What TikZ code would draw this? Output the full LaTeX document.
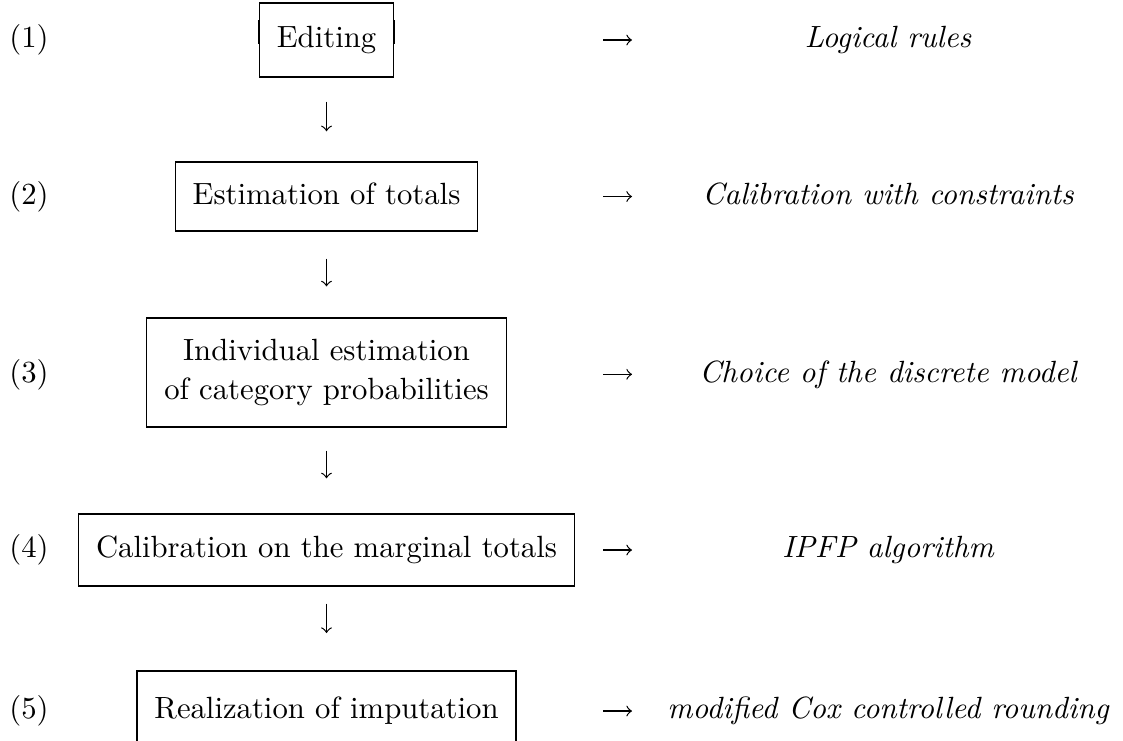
\documentclass[tikz,border=0pt]{standalone}
\begin{document}
\begin{tikzpicture}[x=0.3257pt,y=-0.3257pt,
  stepbox/.style={draw, line width=0.4pt, inner xsep=5.7pt, inner ysep=0pt,
    text height=6.94pt, text depth=1.94pt},
  twobox/.style={draw, line width=0.4pt, inner xsep=5.7pt, inner ysep=0pt,
    align=center, font=\fontsize{10}{12.7}\selectfont},
  lab/.style={anchor=base, inner sep=0pt},
  note/.style={anchor=base, inner sep=0pt, font=\itshape},
  arr/.style={line width=0.4pt, ->}]
\useasboundingbox (0,0) rectangle (1123,740);
\clip (0,0) rectangle (1123,740);
% boxes
\node[stepbox, minimum height=24.1pt] (e1) at (326.5,40) {Editing};
\node[stepbox, minimum height=22.5pt] (e2) at (326.5,196.5) {Estimation of totals};
\node[twobox, minimum height=35.5pt] (e3) at (326.5,372.5) {Individual estimation\\of category probabilities};
\node[stepbox, minimum height=23.5pt] (e4) at (326.5,550) {Calibration on the marginal totals};
\node[stepbox, minimum height=26pt] (e5) at (326.5,711) {Realization of imputation};
% slightly heavier rule pieces on the sides of box 1
\draw[line width=0.6pt] (e1.west |- 0,20) -- (e1.west |- 0,44);
\draw[line width=0.6pt] (e1.east |- 0,20) -- (e1.east |- 0,44);
% labels
\node[lab] (l1) at (29,47.7) {(1)};
\node[lab] (l2) at (29,204.2) {(2)};
\node[lab] (l3) at (29,382) {(3)};
\node[lab] (l4) at (29,557.7) {(4)};
\node[lab] (l5) at (29,718.7) {(5)};
% notes
\node[note] (n1) at (888,47.7) {Logical rules};
\node[note] (n2) at (888,204.2) {Calibration with constraints};
\node[note] (n3) at (888,382) {Choice of the discrete model};
\node[note] (n4) at (888,557.7) {IPFP algorithm};
\node[note] (n5) at (888,718.7) {modified Cox controlled rounding};
% down arrows
\draw[arr, shorten <=7.8pt, shorten >=9.8pt] (e1) -- (e2);
\draw[arr, shorten <=8.8pt, shorten >=10.1pt] (e2) -- (e3);
\draw[arr, shorten <=7.5pt, shorten >=11.4pt] (e3) -- (e4);
\draw[arr, shorten <=5.5pt, shorten >=12.2pt] (e4) -- (e5);
% right arrows
\coordinate (a1s) at (603,40);  \coordinate (a1e) at (632,40);
\coordinate (a2s) at (603,196.5); \coordinate (a2e) at (632,196.5);
\coordinate (a3s) at (603,374.3); \coordinate (a3e) at (632,374.3);
\coordinate (a4s) at (603,550); \coordinate (a4e) at (632,550);
\coordinate (a5s) at (603,711); \coordinate (a5e) at (632,711);
\draw[arr] (a1s) -- (a1e);
\draw[arr] (a2s) -- (a2e);
\draw[arr] (a3s) -- (a3e);
\draw[arr] (a4s) -- (a4e);
\draw[arr] (a5s) -- (a5e);
\end{tikzpicture}
\end{document}
